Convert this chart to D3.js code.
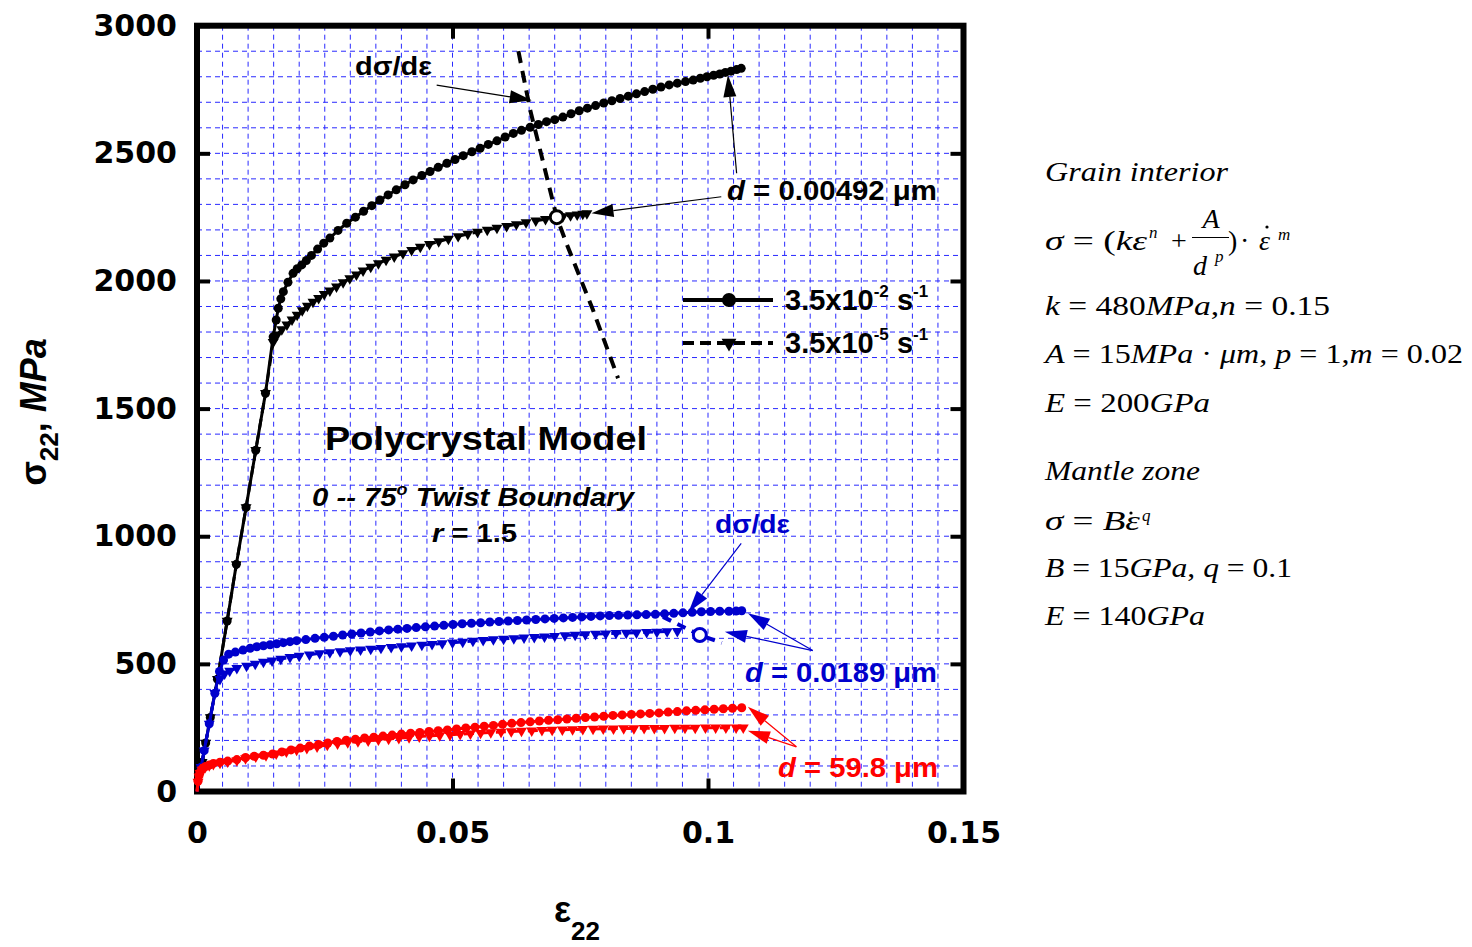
<!DOCTYPE html>
<html>
<head>
<meta charset="utf-8">
<script src="https://cdn.jsdelivr.net/npm/d3@7"></script>
<style>
  body { margin: 0; background: #fff; }
  svg { display: block; }
</style>
</head>
<body>
<script>
// ---- data (strain, stress MPa) ----
var xTicks = [0, 0.05, 0.1, 0.15];
var yTicks = [0, 500, 1000, 1500, 2000, 2500, 3000];

// d = 0.00492 um, 3.5e-2 /s (circles)
var blackFast = [[0,0],[0.0010,115],[0.0017,190],[0.0026,290],[0.0040,440],[0.0059,668],[0.0077,890],[0.0096,1113],[0.0115,1337],[0.0134,1560],[0.0149,1781],
  [0.0155,1847],[0.0159,1893],[0.0164,1930],[0.0169,1958],[0.0178,1995],[0.0188,2030],[0.0196,2048],[0.0205,2063],[0.0214,2080],[0.0224,2100],[0.0236,2125],
  [0.0248,2148],[0.0260,2168],[0.0276,2198],[0.0293,2226],[0.0310,2250],[0.0326,2273],[0.0342,2295],[0.0358,2317],[0.0374,2337],[0.0390,2357],[0.0407,2377],
  [0.0423,2396],[0.0440,2413],[0.0456,2429],[0.0472,2445],[0.0489,2461],[0.0505,2476],[0.0521,2491],[0.0538,2506],[0.0554,2520],[0.0570,2535],[0.0587,2549],
  [0.0603,2564],[0.0619,2578],[0.0635,2590],[0.0652,2602],[0.0668,2613],[0.0684,2624],[0.0700,2632],[0.0716,2642],[0.0732,2655],[0.0748,2667],[0.0764,2677],
  [0.0780,2687],[0.0796,2697],[0.0812,2706],[0.0828,2715],[0.0844,2724],[0.0860,2733],[0.0876,2742],[0.0892,2751],[0.0908,2760],[0.0924,2768],[0.0940,2775],
  [0.0956,2781],[0.0971,2787],[0.0985,2794],[0.0998,2800],[0.1011,2806],[0.1023,2811],[0.1034,2817],[0.1045,2822],[0.1056,2828],[0.1065,2833]];

// d = 0.00492 um, 3.5e-5 /s (triangles)
var blackSlow = [[0,0],[0.0010,115],[0.0017,190],[0.0026,290],[0.0040,440],[0.0059,668],[0.0077,890],[0.0096,1113],[0.0115,1337],[0.0134,1560],[0.0149,1760],
  [0.0157,1790],[0.0166,1810],[0.0176,1829],[0.0186,1848],[0.0196,1867],[0.0206,1885],[0.0216,1902],[0.0227,1918],[0.0238,1933],[0.0249,1948],[0.0260,1962],
  [0.0273,1978],[0.0286,1994],[0.0299,2010],[0.0312,2025],[0.0325,2040],[0.0340,2055],[0.0355,2069],[0.0370,2082],[0.0386,2095],[0.0403,2108],[0.0420,2121],
  [0.0437,2133],[0.0455,2144],[0.0473,2155],[0.0492,2165],[0.0511,2175],[0.0530,2184],[0.0549,2192],[0.0568,2200],[0.0587,2208],[0.0606,2215],[0.0625,2222],
  [0.0644,2229],[0.0663,2236],[0.0682,2242],[0.0700,2248],[0.0716,2253],[0.0731,2257],[0.0744,2260],[0.0755,2263],[0.0763,2265]];

// d = 0.0189 um
var blueFast = [[0,0],[0.0008,95],[0.0014,160],[0.0024,265],[0.0035,385],[0.0044,470],[0.0052,515],[0.0062,538],[0.0075,546],[0.0090,554],[0.0104,561],
  [0.0117,567],[0.0130,571],[0.0143,575],[0.0156,579],[0.0169,583],[0.0182,587],[0.0195,591],[0.0213,595],[0.0231,600],[0.0249,604],[0.0267,608],[0.0285,613],
  [0.0303,617],[0.0321,621],[0.0339,625],[0.0357,629],[0.0375,633],[0.0393,636],[0.0411,639],[0.0429,642],[0.0447,645],[0.0465,648],[0.0483,651],[0.0501,654],
  [0.0519,657],[0.0537,659],[0.0555,661],[0.0573,664],[0.0591,666],[0.0609,668],[0.0627,670],[0.0645,672],[0.0663,674],[0.0681,676],[0.0699,678],[0.0717,680],
  [0.0735,682],[0.0753,684],[0.0771,686],[0.0789,688],[0.0807,689],[0.0825,690],[0.0843,691],[0.0861,692],[0.0879,693],[0.0897,694],[0.0915,696],[0.0933,698],
  [0.0951,700],[0.0969,702],[0.0987,704],[0.1005,705],[0.1023,706],[0.1041,706],[0.1055,707],[0.1066,708]];

var blueSlow = [[0,0],[0.0008,95],[0.0014,160],[0.0024,265],[0.0035,385],[0.0045,440],[0.0054,462],[0.0064,472],[0.0078,483],[0.0097,492],[0.0114,500],
  [0.0130,508],[0.0147,513],[0.0164,519],[0.0182,526],[0.0200,531],[0.0220,536],[0.0240,541],[0.0260,545],[0.0280,549],[0.0300,553],[0.0320,556],[0.0340,559],
  [0.0360,562],[0.0380,565],[0.0400,568],[0.0420,571],[0.0440,574],[0.0460,577],[0.0480,580],[0.0500,583],[0.0520,586],[0.0540,590],[0.0560,593],[0.0580,596],
  [0.0600,598],[0.0620,600],[0.0640,603],[0.0660,605],[0.0680,607],[0.0700,609],[0.0720,611],[0.0740,613],[0.0760,615],[0.0780,617],[0.0800,618],[0.0820,620],
  [0.0840,621],[0.0860,622],[0.0880,624],[0.0900,625],[0.0920,627],[0.0940,628]];

// d = 59.8 um
var redFast = [[0,0],[0.0002,40],[0.0004,62],[0.0006,75],[0.0010,88],[0.0016,97],[0.0024,104],[0.0032,110],[0.0045,115],[0.0060,119],[0.0078,125],[0.0095,133],
  [0.0112,138],[0.0130,142],[0.0148,147],[0.0166,155],[0.0184,163],[0.0202,170],[0.0220,178],[0.0238,184],[0.0256,190],[0.0274,196],[0.0292,201],[0.0310,205],
  [0.0328,210],[0.0346,213],[0.0364,217],[0.0382,221],[0.0400,225],[0.0418,228],[0.0436,231],[0.0454,235],[0.0472,238],[0.0490,241],[0.0508,245],[0.0526,249],
  [0.0544,252],[0.0562,256],[0.0580,259],[0.0598,263],[0.0616,267],[0.0634,270],[0.0652,273],[0.0670,276],[0.0688,279],[0.0706,281],[0.0724,284],[0.0742,287],
  [0.0760,290],[0.0778,292],[0.0796,295],[0.0814,298],[0.0832,300],[0.0850,302],[0.0868,304],[0.0886,306],[0.0904,308],[0.0922,311],[0.0940,313],[0.0958,316],
  [0.0976,318],[0.0994,320],[0.1012,322],[0.1030,324],[0.1048,326],[0.1066,328]];

var redSlow = [[0,0],[0.0002,38],[0.0004,58],[0.0006,72],[0.0010,85],[0.0016,95],[0.0024,102],[0.0032,107],[0.0045,112],[0.0060,117],[0.0078,122],[0.0095,130],
  [0.0115,136],[0.0135,141],[0.0155,148],[0.0175,156],[0.0195,163],[0.0215,170],[0.0235,176],[0.0255,182],[0.0275,187],[0.0295,192],[0.0315,196],[0.0335,199],
  [0.0355,203],[0.0375,206],[0.0395,209],[0.0415,212],[0.0435,215],[0.0455,218],[0.0475,220],[0.0495,222],[0.0515,225],[0.0535,227],[0.0555,229],[0.0575,231],
  [0.0595,233],[0.0615,235],[0.0635,237],[0.0655,238],[0.0675,240],[0.0695,241],[0.0715,242],[0.0735,243],[0.0755,244],[0.0775,245],[0.0795,246],[0.0815,246],
  [0.0835,247],[0.0855,247],[0.0875,248],[0.0895,248],[0.0915,248],[0.0935,249],[0.0955,249],[0.0975,249],[0.0995,250],[0.1015,250],[0.1035,250],[0.1055,250],[0.1069,250]];

// d(sigma)/d(eps) lines and their intersection points
var blackSlope = [[0.0629,2900],[0.0652,2670],[0.0704,2250],[0.0723,2147],[0.0775,1886],[0.0824,1619]];
var blueSlope = [[0.0912,684],[0.0984,613],[0.1027,582]];
var blackCross = [0.0704, 2250];
var blueCross = [0.0984, 613];

var arrows = [
  {from: [0.0469, 2767], to: [0.0655, 2708], color: "#000"},
  {from: [0.1056, 2422], to: [0.1039, 2807], color: "#000"},
  {from: [0.1026, 2330], to: [0.0772, 2265], color: "#000"},
  {from: [0.1065, 972], to: [0.0962, 703], color: "#0000cc"},
  {from: [0.1205, 552], to: [0.1078, 698], color: "#0000cc"},
  {from: [0.1205, 552], to: [0.1033, 626], color: "#0000cc"},
  {from: [0.1173, 175], to: [0.1078, 332], color: "#ff0000"},
  {from: [0.1173, 175], to: [0.1078, 238], color: "#ff0000"}
];

var chartWidth = 1472;
var chartHeight = 947;

var svg = d3.select("body")
    .append("svg")
    .attr("width", chartWidth)
    .attr("height", chartHeight);

var x = d3.scaleLinear().domain([0, 0.15]).range([197, 963.5]);
var y = d3.scaleLinear().domain([0, 3000]).range([791.5, 25.7]);

// grid, every 0.005 and every 100 MPa
var gridX = d3.range(1, 30).map(function(i) { return i * 0.005; });
var gridY = d3.range(1, 30).map(function(i) { return i * 100; });

var grid = svg.append("g");
grid.selectAll(".gx").data(gridX).enter().append("line")
    .attr("x1", function(d) { return x(d); })
    .attr("x2", function(d) { return x(d); })
    .attr("y1", y(3000)).attr("y2", y(0))
    .attr("stroke", "#2a2aff").attr("stroke-width", 1)
    .attr("stroke-dasharray", "5,4");
grid.selectAll(".gy").data(gridY).enter().append("line")
    .attr("y1", function(d) { return y(d); })
    .attr("y2", function(d) { return y(d); })
    .attr("x1", x(0)).attr("x2", x(0.15))
    .attr("stroke", "#2a2aff").attr("stroke-width", 1)
    .attr("stroke-dasharray", "5,4");

// frame
svg.append("rect")
    .attr("x", x(0)).attr("y", y(3000))
    .attr("width", x(0.15) - x(0)).attr("height", y(0) - y(3000))
    .attr("fill", "none").attr("stroke", "#000").attr("stroke-width", 6);

// axes with inward ticks
function styleAxis(g) {
    g.select(".domain").remove();
    g.selectAll(".tick line").attr("stroke", "#000").attr("stroke-width", 4);
    g.selectAll(".tick text")
        .attr("font-family", "'DejaVu Sans', sans-serif")
        .attr("font-weight", "bold")
        .attr("font-size", 30)
        .attr("fill", "#000");
}
var plain = function(d) { return String(d); };
svg.append("g").attr("transform", "translate(0," + y(0) + ")")
    .call(d3.axisBottom(x).tickValues(xTicks).tickSize(-13).tickPadding(30).tickFormat(plain))
    .call(styleAxis);
svg.append("g").attr("transform", "translate(0," + y(3000) + ")")
    .call(d3.axisTop(x).tickValues(xTicks).tickSize(-13).tickFormat(""))
    .call(styleAxis);
svg.append("g").attr("transform", "translate(" + x(0) + ",0)")
    .call(d3.axisLeft(y).tickValues(yTicks).tickSize(-13).tickPadding(20).tickFormat(plain))
    .call(styleAxis);
svg.append("g").attr("transform", "translate(" + x(0.15) + ",0)")
    .call(d3.axisRight(y).tickValues(yTicks).tickSize(-13).tickFormat(""))
    .call(styleAxis);

// axis titles
var sans = "'Liberation Sans', Arial, sans-serif";
var yTitle = svg.append("text")
    .attr("transform", "translate(46,412) rotate(-90)")
    .attr("text-anchor", "middle")
    .attr("font-family", sans).attr("font-weight", "bold").attr("font-size", 36);
yTitle.append("tspan").text("σ");
yTitle.append("tspan").attr("font-size", 26).attr("dy", 12).text("22");
yTitle.append("tspan").attr("dy", -12).text(", ");
yTitle.append("tspan").attr("font-style", "italic").text("MPa");

var xTitle = svg.append("text")
    .attr("x", 554).attr("y", 922)
    .attr("font-family", sans).attr("font-weight", "bold").attr("font-size", 36);
xTitle.append("tspan").text("ε");
xTitle.append("tspan").attr("font-size", 26).attr("dy", 18).text("22");

// series
var line = d3.line().x(function(d) { return x(d[0]); }).y(function(d) { return y(d[1]); });
var tri = d3.symbol().type(d3.symbolTriangle).size(52);

function drawSeries(data, color, dashed, marker) {
    var g = svg.append("g");
    g.append("path")
        .attr("d", line(data))
        .attr("fill", "none")
        .attr("stroke", color)
        .attr("stroke-width", 3)
        .attr("stroke-dasharray", dashed ? "10,6" : null);
    if (marker === "circle") {
        g.selectAll("circle").data(data.slice(1)).enter().append("circle")
            .attr("cx", function(d) { return x(d[0]); })
            .attr("cy", function(d) { return y(d[1]); })
            .attr("r", 4.5)
            .attr("fill", color);
    } else {
        g.selectAll("path.m").data(data.slice(1)).enter().append("path")
            .classed("m", true)
            .attr("d", tri)
            .attr("transform", function(d) { return "translate(" + x(d[0]) + "," + y(d[1]) + ") rotate(180)"; })
            .attr("fill", color);
    }
}

drawSeries(blackSlow, "#000", true, "tri");
drawSeries(blackFast, "#000", false, "circle");
drawSeries(blueSlow, "#0000cc", true, "tri");
drawSeries(blueFast, "#0000cc", false, "circle");
drawSeries(redSlow, "#ff0000", true, "tri");
drawSeries(redFast, "#ff0000", false, "circle");

// slope lines
svg.append("path").attr("d", line(blackSlope))
    .attr("fill", "none").attr("stroke", "#000").attr("stroke-width", 4)
    .attr("stroke-dasharray", "12,8");
svg.append("path").attr("d", line(blueSlope))
    .attr("fill", "none").attr("stroke", "#0000cc").attr("stroke-width", 4)
    .attr("stroke-dasharray", "9,7");
svg.append("circle").attr("cx", x(blackCross[0])).attr("cy", y(blackCross[1]))
    .attr("r", 6.5).attr("fill", "#fff").attr("stroke", "#000").attr("stroke-width", 3);
svg.append("circle").attr("cx", x(blueCross[0])).attr("cy", y(blueCross[1]))
    .attr("r", 6.5).attr("fill", "#fff").attr("stroke", "#0000cc").attr("stroke-width", 3);

// annotation arrows
arrows.forEach(function(a) {
    var x1 = x(a.from[0]), y1 = y(a.from[1]);
    var x2 = x(a.to[0]), y2 = y(a.to[1]);
    var dx = x2 - x1, dy = y2 - y1, len = Math.sqrt(dx * dx + dy * dy);
    var ux = dx / len, uy = dy / len;
    var hl = 22, hw = 6.5;
    var bx = x2 - ux * hl, by = y2 - uy * hl;
    svg.append("line").attr("x1", x1).attr("y1", y1).attr("x2", bx).attr("y2", by)
        .attr("stroke", a.color).attr("stroke-width", 1.2);
    svg.append("polygon")
        .attr("points", [[x2, y2], [bx - uy * hw, by + ux * hw], [bx + uy * hw, by - ux * hw]].join(" "))
        .attr("fill", a.color);
});

// labels in the plot
function label(px, py, parts, size, color, len, anchor) {
    var t = svg.append("text")
        .attr("x", px).attr("y", py)
        .attr("font-family", sans).attr("font-weight", "bold")
        .attr("font-size", size).attr("fill", color)
        .attr("text-anchor", anchor || "start");
    parts.forEach(function(p) {
        t.append("tspan").attr("font-style", p[1] ? "italic" : "normal").text(p[0]);
    });
    if (len) t.attr("textLength", len).attr("lengthAdjust", "spacingAndGlyphs");
    return t;
}

label(355, 75, [["dσ/dε", 0]], 25, "#000", 77);
label(727, 200, [["d", 1], [" = 0.00492 μm", 0]], 27, "#000", 210);
label(325, 450, [["Polycrystal Model", 0]], 34, "#000", 322);
var tb = svg.append("text").attr("x", 312).attr("y", 506).attr("font-family", sans)
    .attr("font-weight", "bold").attr("font-style", "italic").attr("font-size", 26)
    .attr("textLength", 322).attr("lengthAdjust", "spacingAndGlyphs");
tb.append("tspan").text("0 -- 75");
tb.append("tspan").attr("font-size", 16).attr("dy", -11).text("o");
tb.append("tspan").attr("dy", 11).text(" Twist Boundary");
label(432, 542, [["r", 1], [" = 1.5", 0]], 26, "#000", 85);
label(715, 533, [["dσ/dε", 0]], 25, "#0000cc", 75);
label(745, 682, [["d", 1], [" = 0.0189 μm", 0]], 27, "#0000cc", 192);
label(778, 777, [["d", 1], [" = 59.8 μm", 0]], 27, "#ff0000", 160);

// legend
var legendRows = [{y: 300, dashed: false, marker: "circle", exp: "-2"},
                  {y: 343, dashed: true, marker: "tri", exp: "-5"}];
legendRows.forEach(function(r) {
    svg.append("line").attr("x1", 683).attr("x2", 773).attr("y1", r.y).attr("y2", r.y)
        .attr("stroke", "#000").attr("stroke-width", 4)
        .attr("stroke-dasharray", r.dashed ? "11,6" : null);
    if (r.marker === "circle") {
        svg.append("circle").attr("cx", 729).attr("cy", r.y).attr("r", 7).attr("fill", "#000");
    } else {
        svg.append("path").attr("d", d3.symbol().type(d3.symbolTriangle).size(95))
            .attr("transform", "translate(729," + r.y + ") rotate(180)").attr("fill", "#000");
    }
    var t = svg.append("text").attr("x", 785).attr("y", r.y + 10)
        .attr("font-family", sans).attr("font-weight", "bold").attr("font-size", 29);
    t.append("tspan").text("3.5x10");
    t.append("tspan").attr("font-size", 17).attr("dy", -13).text(r.exp);
    t.append("tspan").attr("dy", 13).text(" s");
    t.append("tspan").attr("font-size", 17).attr("dy", -13).text("-1");
});

// constitutive equations on the right
var serif = "'Liberation Serif', 'Times New Roman', serif";
var eq = svg.append("g")
    .attr("font-family", serif).attr("font-size", 28).attr("fill", "#000");

function eqLine(py, parts, len) {
    var t = eq.append("text").attr("x", 1045).attr("y", py);
    parts.forEach(function(p) {
        t.append("tspan").attr("font-style", p[1] ? "italic" : "normal").text(p[0]);
    });
    if (len) t.attr("textLength", len).attr("lengthAdjust", "spacingAndGlyphs");
    return t;
}
function small(px, py, s) {
    eq.append("text").attr("x", px).attr("y", py).attr("font-size", 17)
        .attr("font-style", "italic").text(s);
}

eqLine(181, [["Grain interior", 1]], 183);
eqLine(250, [["σ", 1], [" = (", 0], ["k", 1], ["ε", 1]], 102);
small(1149, 238, "n");
eq.append("text").attr("x", 1171).attr("y", 250).text("+");
eq.append("text").attr("x", 1211).attr("y", 228).attr("text-anchor", "middle").attr("font-style", "italic").text("A");
eq.append("line").attr("x1", 1192).attr("x2", 1229).attr("y1", 237.5).attr("y2", 237.5)
    .attr("stroke", "#000").attr("stroke-width", 1.2);
eq.append("text").attr("x", 1193).attr("y", 275).attr("font-style", "italic").text("d");
small(1215, 262, "p");
eq.append("text").attr("x", 1228).attr("y", 250).text(")");
eq.append("text").attr("x", 1240).attr("y", 250).text("·");
eq.append("text").attr("x", 1259).attr("y", 250).attr("font-style", "italic").text("ε");
eq.append("circle").attr("cx", 1267).attr("cy", 227).attr("r", 1.6).attr("fill", "#000");
small(1278, 240, "m");

eqLine(315, [["k", 1], [" = 480", 0], ["MPa", 1], [",", 0], ["n", 1], [" = 0.15", 0]], 285);
eqLine(363, [["A", 1], [" = 15", 0], ["MPa", 1], [" · ", 0], ["μm", 1], [", ", 0], ["p", 1], [" = 1,", 0], ["m", 1], [" = 0.02", 0]], 418);
eqLine(412, [["E", 1], [" = 200", 0], ["GPa", 1]], 165);
eqLine(480, [["Mantle zone", 1]], 155);
eqLine(530, [["σ", 1], [" = ", 0], ["B", 1], ["ε", 1]], 95);
eq.append("circle").attr("cx", 1131).attr("cy", 513).attr("r", 1.6).attr("fill", "#000");
small(1142, 521, "q");
eqLine(577, [["B", 1], [" = 15", 0], ["GPa", 1], [", ", 0], ["q", 1], [" = 0.1", 0]], 247);
eqLine(625, [["E", 1], [" = 140", 0], ["GPa", 1]], 160);
</script>
</body>
</html>
